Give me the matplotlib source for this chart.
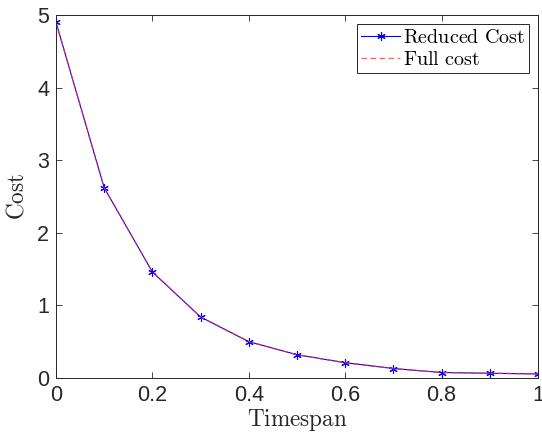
import numpy as np
import matplotlib
matplotlib.use("Agg")
from matplotlib import pyplot as plt

timespan = [0.0, 0.1, 0.2, 0.3, 0.4, 0.5, 0.6, 0.7, 0.8, 0.9, 1.0]
reduced_cost = [4.90, 2.62, 1.46, 0.84, 0.50, 0.32, 0.21, 0.13, 0.075, 0.065, 0.055]
full_cost = [4.90, 2.62, 1.46, 0.84, 0.50, 0.32, 0.21, 0.13, 0.075, 0.065, 0.055]
x_ticks = [0, 0.2, 0.4, 0.6, 0.8, 1]
y_ticks = [0, 1, 2, 3, 4, 5]

plt.rcParams['mathtext.fontset'] = 'cm'
plt.rcParams['font.family'] = ['Liberation Sans', 'DejaVu Sans']

fig = plt.figure(figsize=(5.42, 4.4), dpi=100)
ax = fig.add_axes([0.1033, 0.141, 0.8893, 0.825])

# asterisk marker like matlab's '*'
ax.plot(timespan, reduced_cost, '-', color='#0000ff', lw=0.8,
        marker=(6, 2, 0), markersize=6, markeredgewidth=0.8,
        label=r'$\mathrm{Reduced\ Cost}$')
ax.plot(timespan, full_cost, '--', color='#ff3030', lw=1.0, alpha=0.75,
        dashes=(4, 2.5), label=r'$\mathrm{Full\ cost}$')

ax.set_xlim(0, 1)
ax.set_ylim(0, 5)
ax.set_xticks(x_ticks)
ax.set_xticklabels(['0', '0.2', '0.4', '0.6', '0.8', '1'])
ax.set_yticks(y_ticks)
ax.tick_params(direction='in', which='both', top=True, right=True,
               length=4, width=0.6, colors='#262626', labelsize=15.5, pad=5)
for sp in ax.spines.values():
    sp.set_color('#262626')
    sp.set_linewidth(0.7)

ax.set_xlabel(r'$\mathrm{Timespan}$', fontsize=16.7, color='#262626', labelpad=1)
ax.set_ylabel(r'$\mathrm{Cost}$', fontsize=16.7, color='#262626', labelpad=6)

leg = ax.legend(loc='upper right', fontsize=14.5, fancybox=False, framealpha=1,
                edgecolor='#262626', borderpad=0.2, handlelength=1.9,
                handletextpad=0.15, labelspacing=0.15, borderaxespad=0.45)
leg.get_frame().set_linewidth(0.7)

fig.savefig('out.png', dpi=100)
